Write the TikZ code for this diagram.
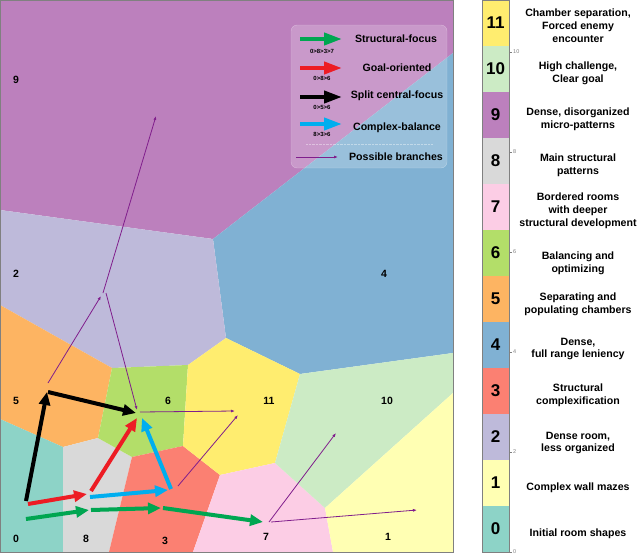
\documentclass[tikz,border=0pt]{standalone}
\usepackage{fontspec}
\setmainfont{Liberation Sans}
\usetikzlibrary{arrows.meta}

\definecolor{set0}{HTML}{8DD3C7}
\definecolor{set1}{HTML}{FFFFB3}
\definecolor{set2}{HTML}{BEBADA}
\definecolor{set3}{HTML}{FB8072}
\definecolor{set4}{HTML}{80B1D3}
\definecolor{set5}{HTML}{FDB462}
\definecolor{set6}{HTML}{B3DE69}
\definecolor{set7}{HTML}{FCCDE5}
\definecolor{set8}{HTML}{D9D9D9}
\definecolor{set9}{HTML}{BC80BD}
\definecolor{set10}{HTML}{CCEBC5}
\definecolor{set11}{HTML}{FFED6F}
\definecolor{pgreen}{RGB}{0,166,81}
\definecolor{pred}{RGB}{237,28,36}
\definecolor{pblue}{RGB}{0,174,239}
\definecolor{pbranch}{RGB}{128,30,140}

\begin{document}
\begin{tikzpicture}[x=1pt, y=-1pt,
  path/.style = {line width=4pt, -{Triangle[length=13pt,width=11pt]}},
  legpath/.style = {line width=4pt, -{Triangle[length=18pt,width=12pt]}},
  branch/.style = {draw=pbranch, line width=0.8pt, -{Latex[length=4pt,width=3pt]}},
  region/.style = {font=\bfseries\fontsize{10.5}{12}\selectfont},
  cnum/.style = {font=\bfseries\fontsize{17}{20}\selectfont},
  cdesc/.style = {align=center, font=\bfseries\fontsize{10.6}{12.8}\selectfont},
  ltext/.style = {font=\bfseries\fontsize{10.6}{12}\selectfont},
  lsmall/.style = {font=\bfseries\fontsize{6}{7}\selectfont},
  ctick/.style = {font=\fontsize{5.5}{6}\selectfont, text=gray, anchor=west, inner sep=1pt}]
\useasboundingbox (0,0) rectangle (640,557);

% voronoi cells
\fill[set9] (0,0) -- (453,0) -- (453,53) -- (213,239) -- (0,210) -- cycle;
\fill[set4] (213,239) -- (453,53) -- (453,353) -- (300,374) -- (226,338) -- cycle;
\fill[set2] (0,210) -- (213,239) -- (226,338) -- (188,365) -- (112,368) -- (0,305) -- cycle;
\fill[set5] (0,305) -- (112,368) -- (98,438) -- (63,447) -- (0,419) -- cycle;
\fill[set0] (0,419) -- (63,447) -- (63,552) -- (0,552) -- cycle;
\fill[set8] (63,447) -- (98,438) -- (132,457) -- (109,552) -- (63,552) -- cycle;
\fill[set6] (112,368) -- (188,365) -- (183,446) -- (132,457) -- (98,438) -- cycle;
\fill[set3] (132,457) -- (183,446) -- (220,475) -- (193,552) -- (109,552) -- cycle;
\fill[set11] (188,365) -- (226,338) -- (300,374) -- (275,463) -- (220,475) -- (183,446) -- cycle;
\fill[set7] (220,475) -- (275,463) -- (325,508) -- (333,552) -- (193,552) -- cycle;
\fill[set10] (300,374) -- (453,353) -- (453,393) -- (325,508) -- (275,463) -- cycle;
\fill[set1] (325,508) -- (453,393) -- (453,552) -- (333,552) -- cycle;
\draw[gray, line width=0.8pt] (0,0) rectangle (453,552);

% cell labels
\node[region] (n9) at (16,80) {9};
\node[region] (n2) at (16,274) {2};
\node[region] (n4) at (384,274) {4};
\node[region] (n5) at (16,401) {5};
\node[region] (n6) at (168,401) {6};
\node[region] (n11) at (269,401) {11};
\node[region] (n10) at (387,401) {10};
\node[region] (n0) at (16,539) {0};
\node[region] (n8) at (86,539) {8};
\node[region] (n3) at (165,541) {3};
\node[region] (n7) at (266,537) {7};
\node[region] (n1) at (388,537) {1};

% branch points
\coordinate (p5) at (48,383);
\coordinate (p2) at (101,296);
\coordinate (p2a) at (103,293);
\coordinate (p9) at (156,116);
\coordinate (p2b) at (106,293);
\coordinate (p6) at (137,410);
\coordinate (p6a) at (140,412);
\coordinate (p11) at (235,411);
\coordinate (p3) at (178,486);
\coordinate (p11b) at (238,415);
\coordinate (p7) at (269,522);
\coordinate (p10) at (336,433);
\coordinate (p7b) at (271,522);
\coordinate (p1) at (417,510);
\draw[branch] (p5) -- (p2);
\draw[branch] (p2a) -- (p9);
\draw[branch] (p2b) -- (p6);
\draw[branch] (p6a) -- (p11);
\draw[branch] (p3) -- (p11b);
\draw[branch] (p7) -- (p10);
\draw[branch] (p7b) -- (p1);

% path points
\coordinate (k0) at (26,501);
\coordinate (k5) at (47,392);
\coordinate (k5a) at (48,392);
\coordinate (k6) at (136,413);
\coordinate (r0) at (28,504);
\coordinate (r8) at (87,494);
\coordinate (r8a) at (91,491);
\coordinate (r6) at (137,418);
\coordinate (c8) at (90,497);
\coordinate (c3) at (168,490);
\coordinate (c3a) at (171,489);
\coordinate (c6) at (142,418);
\coordinate (g0) at (26,519);
\coordinate (g8) at (89,510);
\coordinate (g8a) at (91,510);
\coordinate (g3) at (161,508);
\coordinate (g3a) at (163,508);
\coordinate (g7) at (263,522);
\draw[path, black] (k0) -- (k5);
\draw[path, black] (k5a) -- (k6);
\draw[path, pred] (r0) -- (r8);
\draw[path, pred] (r8a) -- (r6);
\draw[path, pblue] (c8) -- (c3);
\draw[path, pblue] (c3a) -- (c6);
\draw[path, pgreen] (g0) -- (g8);
\draw[path, pgreen] (g8a) -- (g3);
\draw[path, pgreen] (g3a) -- (g7);

% legend
\draw[rounded corners=6pt, fill=white, fill opacity=0.2, draw=white, draw opacity=0.35] (291,25) rectangle (447,168);
\coordinate (l1) at (300,39); \coordinate (l1e) at (342,39);
\coordinate (l2) at (300,68); \coordinate (l2e) at (342,68);
\coordinate (l3) at (300,97); \coordinate (l3e) at (342,97);
\coordinate (l4) at (300,124); \coordinate (l4e) at (342,124);
\coordinate (l5) at (296,157); \coordinate (l5e) at (338,157);
\draw[legpath, pgreen] (l1) -- (l1e);
\draw[legpath, pred] (l2) -- (l2e);
\draw[legpath, black] (l3) -- (l3e);
\draw[legpath, pblue] (l4) -- (l4e);
\draw[branch] (l5) -- (l5e);
\draw[white, opacity=0.4, densely dotted] (306,144) -- (433,144);
\node[lsmall] (s1) at (322,51) {0>8>3>7};
\node[lsmall] (s2) at (322,78) {0>8>6};
\node[lsmall] (s3) at (322,107) {0>5>6};
\node[lsmall] (s4) at (322,134) {8>3>6};
\node[ltext] (t1) at (396,39) {Structural-focus};
\node[ltext] (t2) at (397,68) {Goal-oriented};
\node[ltext] (t3) at (397,96) {Split central-focus};
\node[ltext] (t4) at (397,128) {Complex-balance};
\node[ltext] (t5) at (396,157) {Possible branches};

% colour bar
\fill[set11] (482,0) rectangle (509,46);
\fill[set10] (482,46) rectangle (509,92);
\fill[set9] (482,92) rectangle (509,138);
\fill[set8] (482,138) rectangle (509,184);
\fill[set7] (482,184) rectangle (509,230);
\fill[set6] (482,230) rectangle (509,276);
\fill[set5] (482,276) rectangle (509,322);
\fill[set4] (482,322) rectangle (509,368);
\fill[set3] (482,368) rectangle (509,414);
\fill[set2] (482,414) rectangle (509,460);
\fill[set1] (482,460) rectangle (509,506);
\fill[set0] (482,506) rectangle (509,552);
\draw[gray, line width=0.6pt] (482,0) rectangle (509,552);
\draw[gray, line width=0.4pt] (509,552) -- (512,552) (509,452) -- (512,452) (509,352) -- (512,352)
  (509,252) -- (512,252) (509,152) -- (512,152) (509,52) -- (512,52);
\node[ctick] (k00) at (512,552) {0};
\node[ctick] (k02) at (512,452) {2};
\node[ctick] (k04) at (512,352) {4};
\node[ctick] (k06) at (512,252) {6};
\node[ctick] (k08) at (512,152) {8};
\node[ctick] (k10) at (512,52) {10};
\node[cnum] (b11) at (495.5,23) {11};
\node[cnum] (b10) at (495.5,69) {10};
\node[cnum] (b9) at (495.5,115) {9};
\node[cnum] (b8) at (495.5,161) {8};
\node[cnum] (b7) at (495.5,207) {7};
\node[cnum] (b6) at (495.5,253) {6};
\node[cnum] (b5) at (495.5,299) {5};
\node[cnum] (b4) at (495.5,345) {4};
\node[cnum] (b3) at (495.5,391) {3};
\node[cnum] (b2) at (495.5,437) {2};
\node[cnum] (b1) at (495.5,483) {1};
\node[cnum] (b0) at (495.5,529) {0};
\node[cdesc] (d11) at (578,26) {Chamber separation,\\Forced enemy\\encounter};
\node[cdesc] (d10) at (578,73) {High challenge,\\Clear goal};
\node[cdesc] (d9) at (578,119) {Dense, disorganized\\micro-patterns};
\node[cdesc] (d8) at (578,165) {Main structural\\patterns};
\node[cdesc] (d7) at (578,211) {Bordered rooms\\with deeper\\structural development};
\node[cdesc] (d6) at (578,263) {Balancing and\\optimizing};
\node[cdesc] (d5) at (578,304) {Separating and\\populating chambers};
\node[cdesc] (d4) at (578,349) {Dense,\\full range leniency};
\node[cdesc] (d3) at (578,395) {Structural\\complexification};
\node[cdesc] (d2) at (578,443) {Dense room,\\less organized};
\node[cdesc] (d1) at (578,488) {Complex wall mazes};
\node[cdesc] (d0) at (578,534) {Initial room shapes};
\end{tikzpicture}
\end{document}
